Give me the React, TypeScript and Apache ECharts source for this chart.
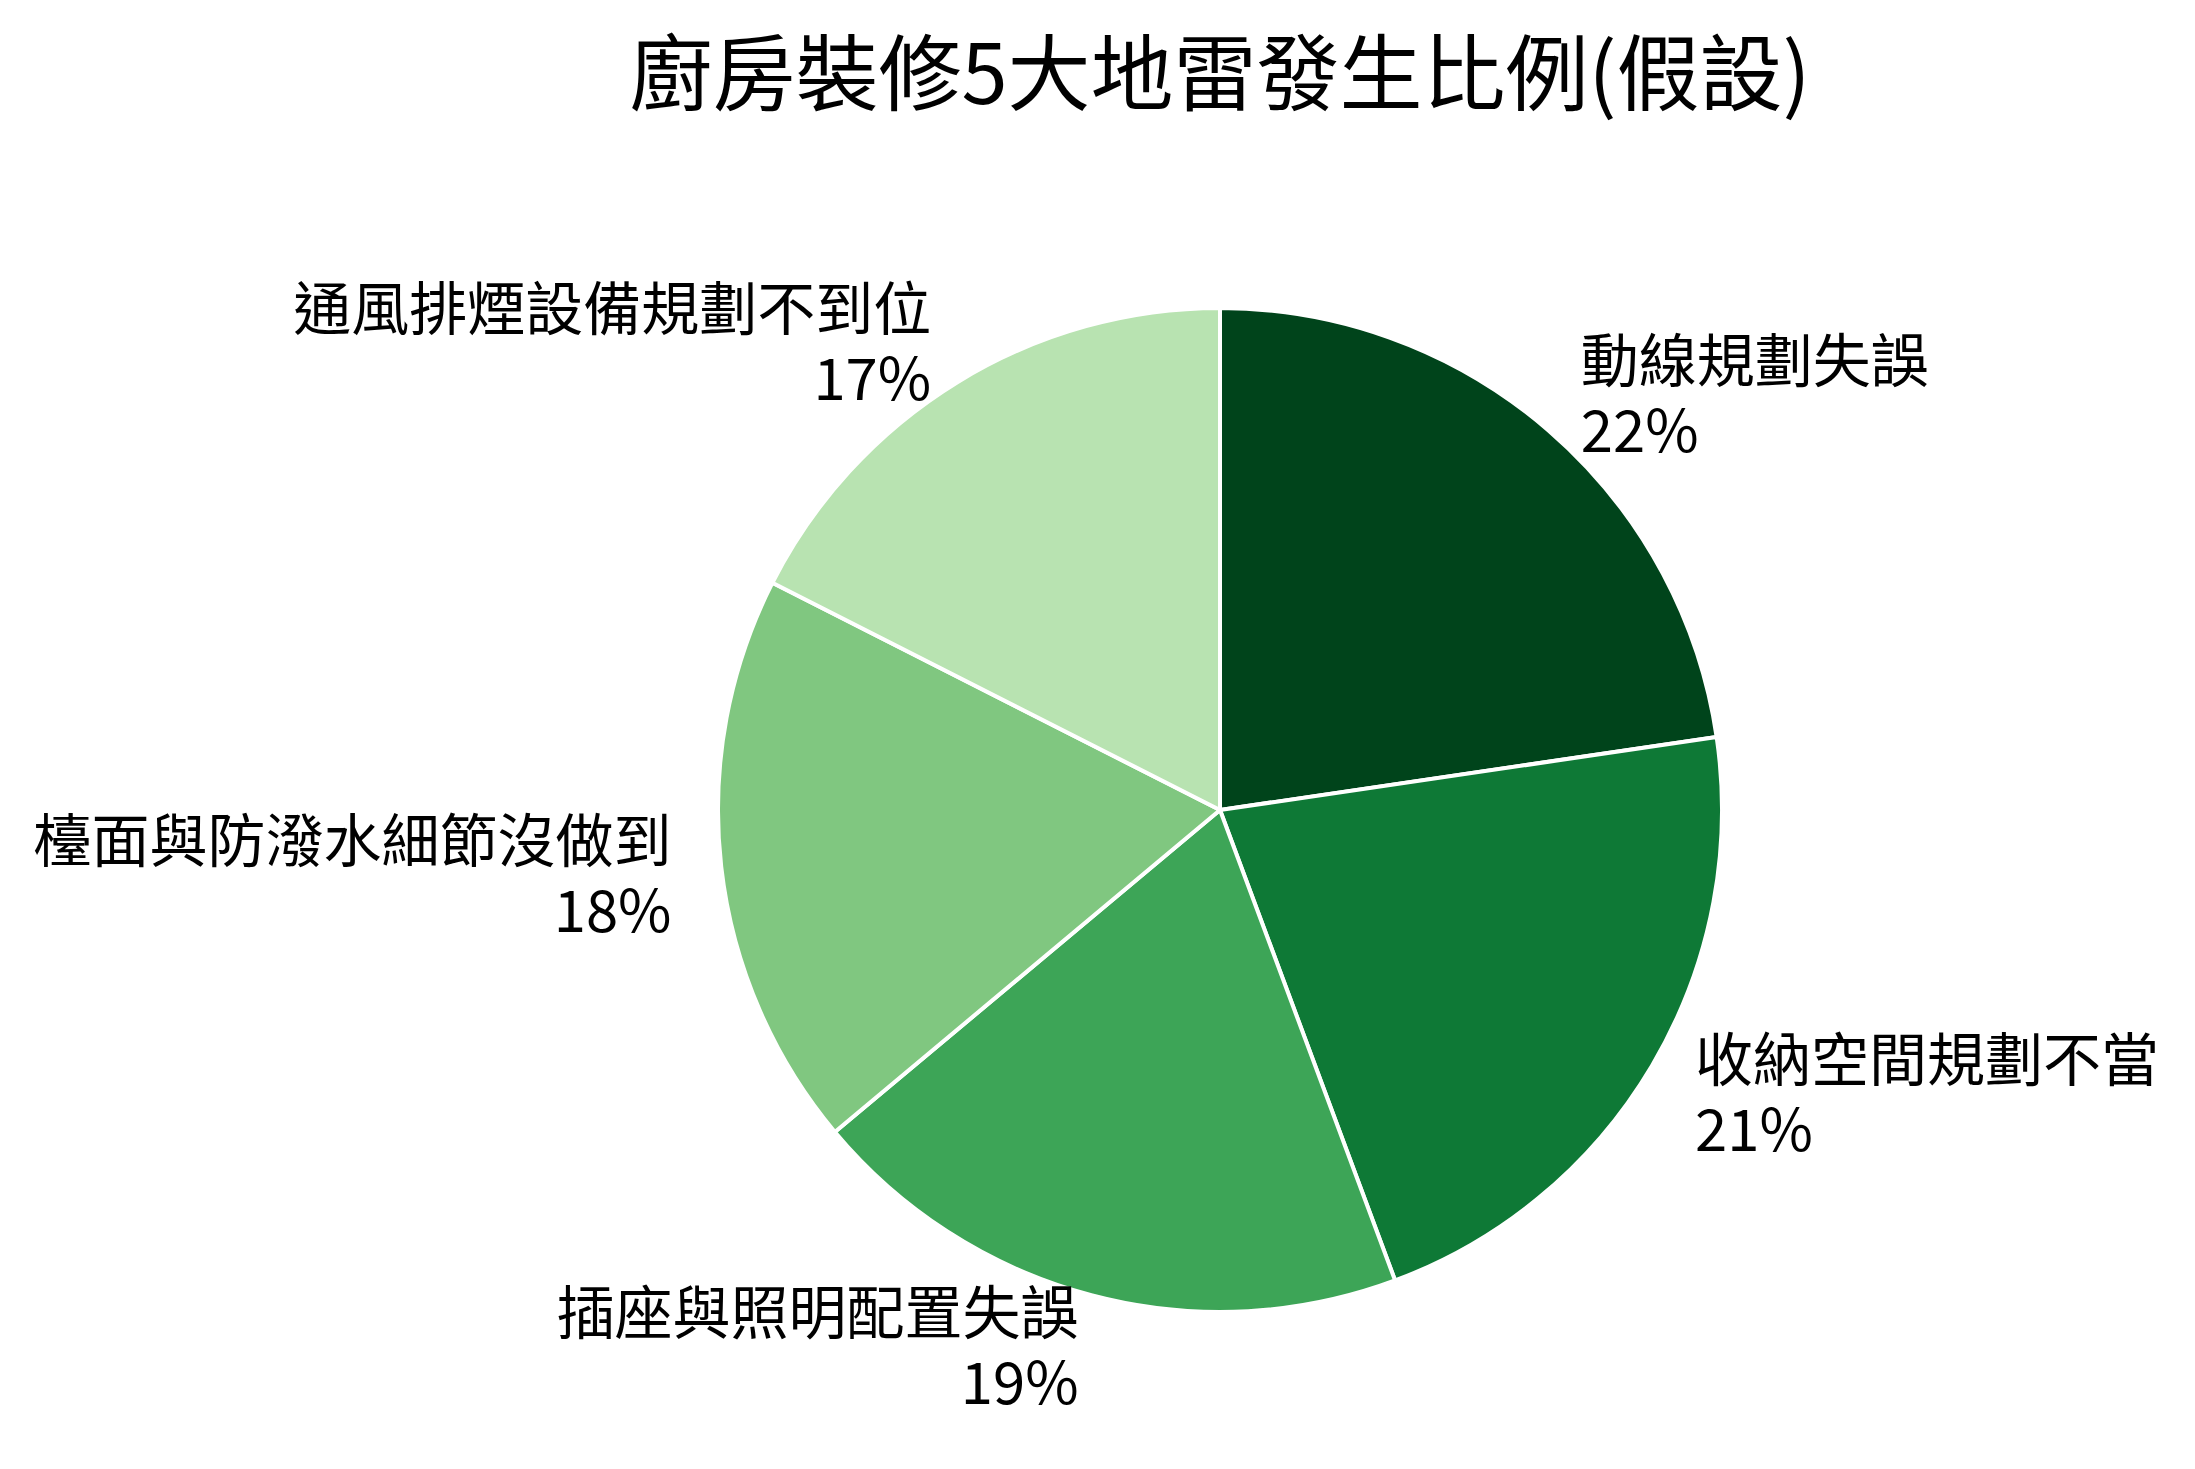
import { useEffect, useRef } from 'react';
import * as echarts from 'echarts';

// 地雷項目與比例（%）
const categories = [
  '動線規劃失誤',
  '收納空間規劃不當',
  '插座與照明配置失誤',
  '檯面與防潑水細節沒做到',
  '通風排煙設備規劃不到位',
];
const values = [22, 21, 19, 18, 17];
const colors = ['#00441b', '#0e7936', '#3da557', '#80c780', '#b8e3b1'];

const FONT = '"Noto Sans CJK TC", "Noto Sans", sans-serif';

const App: React.FC = () => {
  const chartRef = useRef<HTMLDivElement>(null);

  useEffect(() => {
    if (!chartRef.current) return;
    const chart = echarts.init(chartRef.current, undefined, { renderer: 'svg' });

    const option: echarts.EChartsOption = {
      animation: false,
      backgroundColor: '#ffffff',
      title: {
        text: '廚房裝修5大地雷發生比例(假設)',
        left: 1220,
        top: 26,
        padding: 0,
        textAlign: 'center',
        textStyle: {
          fontFamily: FONT,
          fontSize: 83,
          fontWeight: 'normal',
          color: '#000',
        },
      },
      series: [
        {
          type: 'pie',
          center: [1220, 810],
          radius: 502,
          startAngle: 90,
          clockwise: true,
          avoidLabelOverlap: false,
          emphasis: { disabled: true },
          data: categories.map((name, i) => ({
            name,
            value: values[i],
            itemStyle: { color: colors[i] },
          })),
          itemStyle: {
            borderColor: '#ffffff',
            borderWidth: 4,
          },
          label: {
            show: true,
            position: 'outside',
            alignTo: 'none',
            distanceToLabelLine: 0,
            formatter: '{b}\n{c}%',
            fontFamily: FONT,
            fontSize: 58,
            lineHeight: 70,
            color: '#000',
          },
          labelLine: {
            show: false,
            length: 50,
            length2: 0,
          },
        },
      ],
    };

    chart.setOption(option);

    return () => {
      chart.dispose();
    };
  }, []);

  return (
    <div
      ref={chartRef}
      style={{
        position: 'fixed',
        left: 0,
        top: 0,
        width: '2195px',
        height: '1469px',
      }}
    />
  );
};

export default App;
